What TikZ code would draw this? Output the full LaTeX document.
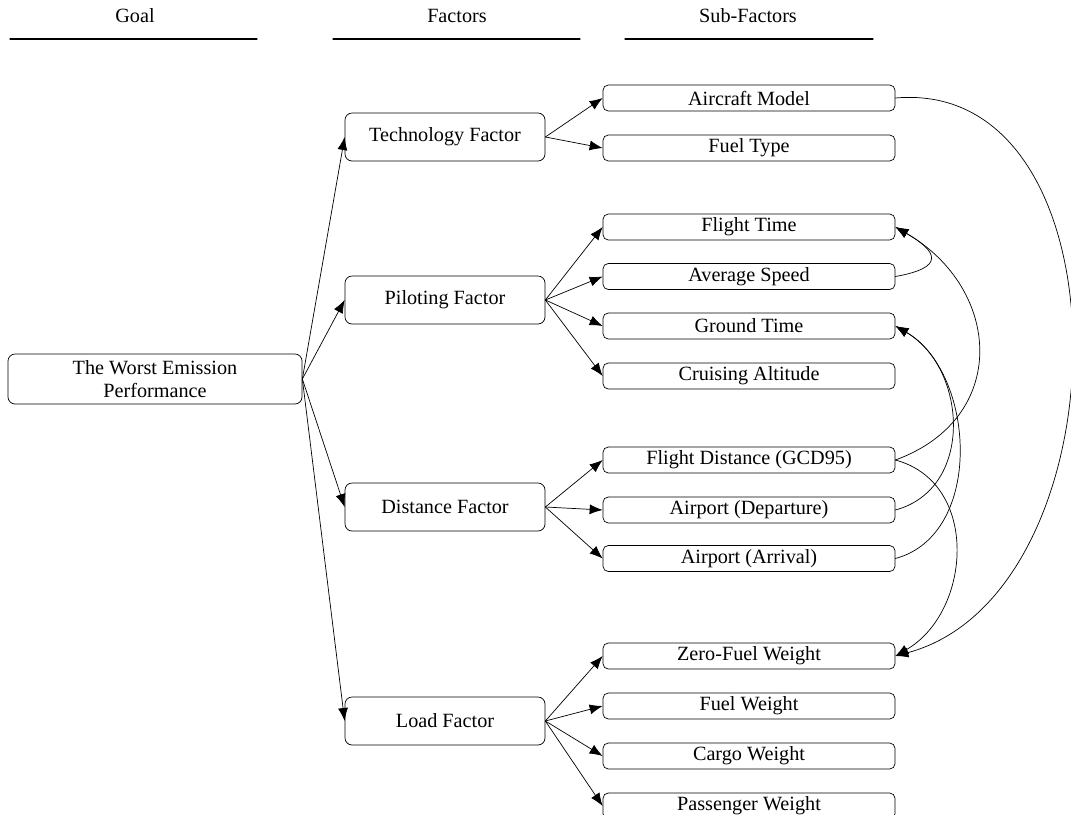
\documentclass[tikz,border=0pt]{standalone}
\usepackage{fontspec}
\setmainfont{Liberation Serif}
\usetikzlibrary{arrows.meta}
\tikzset{
	goalbox/.style={draw, rounded corners=4pt, minimum width=5.88cm, minimum height=1cm, align=center, inner sep=1pt},
	factorbox/.style={draw, rounded corners=4pt, minimum width=4cm, minimum height=0.96cm},
	subbox/.style={draw, rounded corners=3pt, minimum width=5.84cm, minimum height=0.52cm, inner sep=1pt},
}
\begin{document}
\begin{tikzpicture}[font=\fontsize{11.5}{13}\selectfont, line join=round, line cap=round, >={Latex[length=2.6mm,width=2mm]}, thin]
	\useasboundingbox (0,0) rectangle (21.42,-16.28);
	% headers
	\node (hgoal) at (2.7,-0.32) {Goal};
	\node (hfac) at (9.14,-0.32) {Factors};
	\node (hsub) at (14.96,-0.32) {Sub-Factors};
	\draw[semithick] (0.2,-0.78) -- (5.14,-0.78);
	\draw[semithick] (6.66,-0.78) -- (11.6,-0.78);
	\draw[semithick] (12.5,-0.78) -- (17.46,-0.78);
	% goal and factors
	\node[goalbox] (goal) at (3.1,-7.58) {The Worst Emission\\Performance};
	\node[factorbox] (tech) at (8.9,-2.74) {Technology Factor};
	\node[factorbox] (pilot) at (8.9,-6.0) {Piloting Factor};
	\node[factorbox] (dist) at (8.9,-10.14) {Distance Factor};
	\node[factorbox] (load) at (8.9,-14.42) {Load Factor};
	\foreach \f in {tech,pilot,dist,load}
		\draw[->] (goal.east) -- (\f.west);
	% sub-factors
	\foreach \n/\y/\t in {model/-1.96/Aircraft Model, fuel/-2.96/Fuel Type,
		ftime/-4.54/Flight Time, speed/-5.53/Average Speed, gtime/-6.52/Ground Time, alt/-7.52/Cruising Altitude,
		fdist/-9.2/Flight Distance (GCD95), dep/-10.2/Airport (Departure), arr/-11.17/Airport (Arrival),
		zfw/-13.12/Zero-Fuel Weight, fw/-14.12/Fuel Weight, cargo/-15.12/Cargo Weight, pax/-16.12/Passenger Weight}
		\node[subbox] (\n) at (14.98,\y) {\t};
	\foreach \f/\s in {tech/model, tech/fuel, pilot/ftime, pilot/speed, pilot/gtime, pilot/alt,
		dist/fdist, dist/dep, dist/arr, load/zfw, load/fw, load/cargo, load/pax}
		\draw[->] (\f.east) -- (\s.west);
	% links between sub-factors
	\draw[->] (model.east) to[out=5, in=15, looseness=1.1] (zfw.east);
	\draw[->] (speed.east) to[out=10, in=-30, looseness=2.6] (ftime.east);
	\draw[->] (fdist.east) to[out=20, in=-30, looseness=1.35] (ftime.east);
	\draw[->] (dep.east) to[out=15, in=-30, looseness=1.15] (gtime.east);
	\draw[->] (arr.east) to[out=15, in=-30, looseness=1.02] (gtime.east);
	\draw[->] (fdist.east) to[out=-15, in=30, looseness=1.15] (zfw.east);
\end{tikzpicture}
\end{document}
